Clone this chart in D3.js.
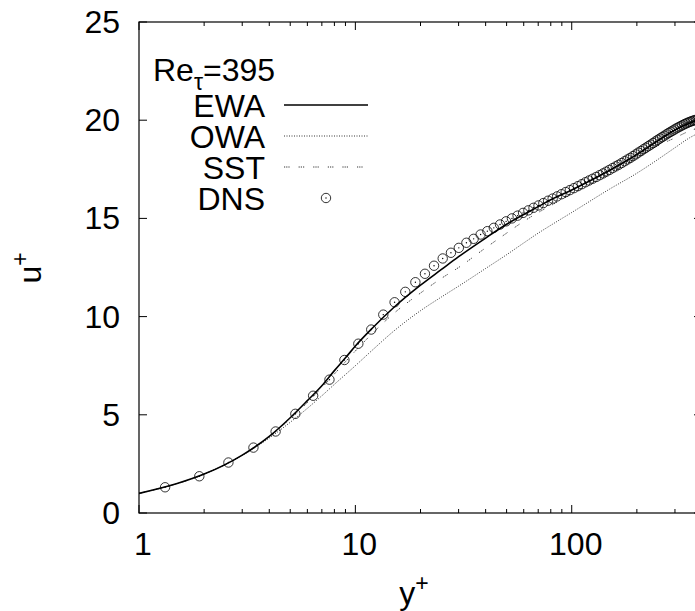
<!DOCTYPE html>
<html>
<head>
<meta charset="utf-8">
<script src="https://cdn.jsdelivr.net/npm/d3@7"></script>
<style>
  html, body { margin: 0; padding: 0; background: #fff; }
  svg { display: block; font-family: "Liberation Sans", Arial, Helvetica, sans-serif; }
</style>
</head>
<body>
<div class="container"></div>
<script>
// EWA model (solid)
const ewaY = [1, 1.5, 2, 3, 4, 5, 6, 7, 8, 9, 10, 12, 15, 20, 25, 30, 40, 50, 60, 70, 80, 100, 150, 200, 250, 300, 350, 395];
const ewaU = [1.0, 1.5, 1.98, 2.95, 3.9, 4.85, 5.72, 6.48, 7.25, 7.9, 8.5, 9.42, 10.45, 11.6, 12.4, 13.05, 14.0, 14.7, 15.2, 15.6, 15.95, 16.45, 17.45, 18.25, 18.95, 19.5, 19.85, 20.05];

// OWA model (dotted)
const owaY = [1, 2, 3, 4, 5, 6, 7, 8, 10, 12, 15, 20, 25, 30, 40, 50, 60, 70, 80, 100, 150, 200, 250, 300, 350, 395];
const owaU = [1.0, 1.98, 2.93, 3.82, 4.62, 5.33, 5.97, 6.55, 7.5, 8.3, 9.25, 10.3, 11.0, 11.55, 12.45, 13.15, 13.75, 14.25, 14.65, 15.3, 16.5, 17.3, 18.0, 18.6, 19.1, 19.4];

// SST model (dashed)
const sstY = [1, 2, 3, 4, 5, 6, 7, 8, 10, 12, 15, 20, 25, 30, 40, 50, 60, 70, 80, 100, 150, 200, 250, 300, 350, 395];
const sstU = [1.0, 1.98, 2.95, 3.88, 4.8, 5.62, 6.38, 7.08, 8.25, 9.15, 10.15, 11.2, 11.95, 12.5, 13.5, 14.25, 14.85, 15.3, 15.65, 16.25, 17.3, 18.1, 18.7, 19.1, 19.45, 19.65];

// DNS points
const dnsY = [1.32, 1.90, 2.59, 3.38, 4.28, 5.28, 6.38, 7.59, 8.90, 10.32, 11.84, 13.46, 15.18, 17.01, 18.94,
  20.97, 23.10, 25.33, 27.65, 30.07, 32.60, 35.21, 37.92, 40.74, 43.64, 46.63, 49.73, 52.92, 56.20, 59.58,
  63.05, 66.57, 70.22, 73.93, 77.74, 81.61, 85.57, 89.62, 93.76, 98.0, 102.3, 106.7, 111.2, 115.7, 120.2,
  124.9, 129.8, 134.6, 139.5, 144.4, 149.4, 154.5, 159.7, 164.8, 170.2, 175.6, 181.0, 186.4, 191.9, 197.5,
  203.1, 208.8, 214.5, 220.3, 226.1, 231.9, 237.9, 243.8, 249.8, 255.9, 261.9, 268.0, 274.2, 280.3, 286.5,
  292.8, 299.0, 305.3, 311.6, 317.9, 324.3, 330.7, 337.0, 343.4, 349.9, 356.3, 362.7, 369.2, 375.6, 382.1,
  388.5, 395.0];
const dnsU = [1.31, 1.87, 2.57, 3.33, 4.15, 5.05, 5.97, 6.79, 7.79, 8.62, 9.34, 10.1, 10.73, 11.26, 11.75,
  12.18, 12.59, 12.96, 13.25, 13.5, 13.76, 13.96, 14.18, 14.35, 14.52, 14.69, 14.85, 15.0, 15.14, 15.28,
  15.41, 15.54, 15.66, 15.78, 15.9, 16.01, 16.12, 16.23, 16.34, 16.44, 16.54, 16.64, 16.74, 16.84, 16.93,
  17.02, 17.11, 17.2, 17.29, 17.38, 17.47, 17.56, 17.65, 17.73, 17.82, 17.91, 18.0, 18.08, 18.17, 18.26,
  18.35, 18.43, 18.52, 18.6, 18.68, 18.76, 18.84, 18.92, 19.0, 19.07, 19.14, 19.21, 19.28, 19.35, 19.41,
  19.47, 19.53, 19.59, 19.64, 19.69, 19.74, 19.79, 19.83, 19.87, 19.91, 19.94, 19.97, 20.0, 20.02, 20.04,
  20.05, 20.06];

const xTicks = [1, 10, 100];
const xMinor = [2, 3, 4, 5, 6, 7, 8, 9, 20, 30, 40, 50, 60, 70, 80, 90, 200, 300, 400];
const yTicks = [0, 5, 10, 15, 20, 25];
const legendNames = ["EWA", "OWA", "SST", "DNS"];

const W = 695, H = 611;
const pLeft = 139, pRight = 702, pTop = 22, pBottom = 513;
const fs = 32;

const x = d3.scaleLog().domain([1, 400]).range([pLeft, pRight]);
const y = d3.scaleLinear().domain([0, 25]).range([pBottom, pTop]);

let svg = d3.select(".container").append("svg")
  .attr("width", W)
  .attr("height", H)
  .style("background", "#fff");

svg.append("defs").append("clipPath").attr("id", "plotclip")
  .append("rect")
  .attr("x", pLeft).attr("y", pTop)
  .attr("width", pRight - pLeft).attr("height", pBottom - pTop);

// ticks, inward on all four sides
const tickG = svg.append("g").attr("stroke", "#000").attr("stroke-width", 1);
xTicks.forEach(v => {
  tickG.append("line").attr("x1", x(v)).attr("x2", x(v)).attr("y1", pBottom).attr("y2", pBottom - 8);
  tickG.append("line").attr("x1", x(v)).attr("x2", x(v)).attr("y1", pTop).attr("y2", pTop + 8);
});
xMinor.forEach(v => {
  tickG.append("line").attr("x1", x(v)).attr("x2", x(v)).attr("y1", pBottom).attr("y2", pBottom - 4);
  tickG.append("line").attr("x1", x(v)).attr("x2", x(v)).attr("y1", pTop).attr("y2", pTop + 4);
});
yTicks.forEach(v => {
  tickG.append("line").attr("x1", pLeft).attr("x2", pLeft + 8).attr("y1", y(v)).attr("y2", y(v));
  tickG.append("line").attr("x1", pRight).attr("x2", pRight - 8).attr("y1", y(v)).attr("y2", y(v));
});

// tick labels
svg.append("g").selectAll("text")
  .data(xTicks)
  .enter()
  .append("text")
  .attr("x", d => x(d) + 4)
  .attr("y", 555)
  .attr("text-anchor", "middle")
  .style("font-size", fs + "px")
  .text(d => d);

svg.append("g").selectAll("text")
  .data(yTicks)
  .enter()
  .append("text")
  .attr("x", 120)
  .attr("y", d => y(d) + 11)
  .attr("text-anchor", "end")
  .style("font-size", fs + "px")
  .text(d => d);

// axis titles
let xl = svg.append("text")
  .attr("x", 414).attr("y", 604)
  .attr("text-anchor", "middle")
  .style("font-size", fs + "px");
xl.append("tspan").text("y");
xl.append("tspan").attr("dy", -13).style("font-size", "23px").text("+");

let yl = svg.append("text")
  .attr("transform", "translate(41,268) rotate(-90)")
  .attr("text-anchor", "middle")
  .style("font-size", fs + "px");
yl.append("tspan").text("u");
yl.append("tspan").attr("dy", -13).style("font-size", "23px").text("+");

// curves
const line = d3.line()
  .x(d => x(d[0]))
  .y(d => y(d[1]))
  .curve(d3.curveMonotoneX);

const plot = svg.append("g").attr("clip-path", "url(#plotclip)");

plot.append("path")
  .attr("d", line(owaY.map((v, i) => [v, owaU[i]])))
  .attr("fill", "none")
  .attr("stroke", "#000")
  .attr("stroke-width", 0.8)
  .attr("stroke-dasharray", "1,1.5");

plot.append("path")
  .attr("d", line(sstY.map((v, i) => [v, sstU[i]])))
  .attr("fill", "none")
  .attr("stroke", "#000")
  .attr("stroke-width", 0.8)
  .attr("stroke-dasharray", "1.2,1,1.2,1,1.2,9");

plot.append("path")
  .attr("d", line(ewaY.map((v, i) => [v, ewaU[i]])))
  .attr("fill", "none")
  .attr("stroke", "#000")
  .attr("stroke-width", 1.6);

function dnsMark(g, cx, cy) {
  g.append("circle").attr("cx", cx).attr("cy", cy).attr("r", 4.7)
    .attr("fill", "none").attr("stroke", "#000").attr("stroke-width", 0.8);
  g.append("circle").attr("cx", cx).attr("cy", cy).attr("r", 0.7)
    .attr("fill", "#000");
}

const dnsG = plot.append("g");
dnsY.forEach((v, i) => dnsMark(dnsG, x(v), y(dnsU[i])));

// frame
svg.append("rect")
  .attr("x", pLeft).attr("y", pTop)
  .attr("width", pRight - pLeft).attr("height", pBottom - pTop)
  .attr("fill", "none")
  .attr("stroke", "#000")
  .attr("stroke-width", 1.2);

// legend
const leg = svg.append("g");
let title = leg.append("text")
  .attr("x", 153).attr("y", 81)
  .style("font-size", fs + "px");
title.append("tspan").text("Re");
title.append("tspan").attr("dy", 9).style("font-size", "23px").text("\u03c4");
title.append("tspan").attr("dy", -9).text("=395");

const rowY = [105, 136, 167, 198];
legendNames.forEach((name, i) => {
  leg.append("text")
    .attr("x", 265).attr("y", rowY[i] + 11.5)
    .attr("text-anchor", "end")
    .style("font-size", fs + "px")
    .text(name);
});
leg.append("line").attr("x1", 284).attr("x2", 368).attr("y1", rowY[0]).attr("y2", rowY[0])
  .attr("stroke", "#000").attr("stroke-width", 1.6);
leg.append("line").attr("x1", 284).attr("x2", 368).attr("y1", rowY[1]).attr("y2", rowY[1])
  .attr("stroke", "#000").attr("stroke-width", 0.8).attr("stroke-dasharray", "1,1.5");
leg.append("line").attr("x1", 284).attr("x2", 368).attr("y1", rowY[2]).attr("y2", rowY[2])
  .attr("stroke", "#000").attr("stroke-width", 0.8).attr("stroke-dasharray", "1.2,1,1.2,1,1.2,9");
dnsMark(leg, 326, rowY[3]);
</script>
</body>
</html>
